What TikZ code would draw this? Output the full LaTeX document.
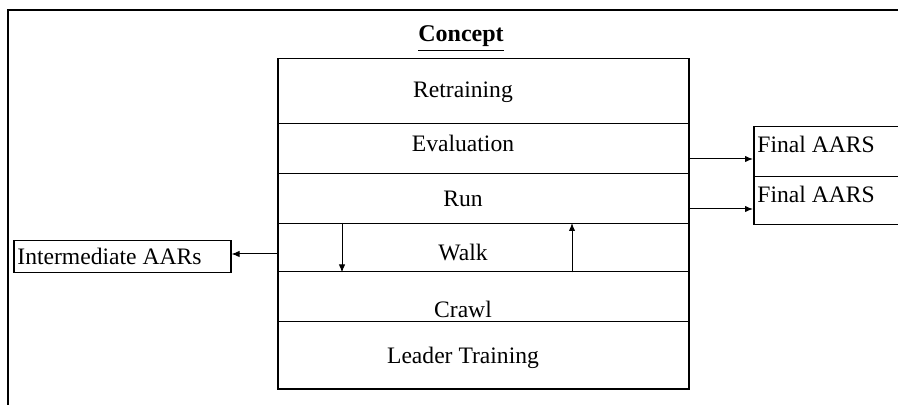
\documentclass[tikz,border=0pt]{standalone}
\usepackage{fontspec}
\setmainfont{Liberation Serif}
\usetikzlibrary{arrows.meta,calc}
\begin{document}
\begin{tikzpicture}[x=0.5pt,y=-0.5pt,
  every node/.style={font=\fontsize{11.8}{14}\selectfont},
  rowbox/.style={draw,line width=0.75pt,anchor=north west,inner sep=0pt,minimum width=205.5pt},
  lbl/.style={anchor=base,inner sep=0pt},
  sidebox/.style={draw,line width=0.75pt,anchor=north west,inner sep=0pt},
  arr/.style={line width=0.5pt,-{Latex[length=4pt,width=3.2pt]}}]
\useasboundingbox (0,0) rectangle (898,405);
\clip (0,0) rectangle (898,405);
\fill[white] (0,0) rectangle (898,405);
% outer frame
\coordinate (fbl) at (8,410);
\coordinate (ftl) at (8,10);
\coordinate (ftr) at (905,10);
\draw[line width=1pt] (fbl) -- (ftl) -- (ftr);
% title
\node[lbl,font=\fontsize{12}{14}\selectfont\bfseries] (title) at (461,42) {\underline{Concept}};
% rows
\node[rowbox,minimum height=32.5pt] (rRet) at (277,58) {};
\node[rowbox,minimum height=25pt] (rEva) at (277,123) {};
\node[rowbox,minimum height=25pt] (rRun) at (277,173) {};
\node[rowbox,minimum height=24pt] (rWal) at (277,223) {};
\node[rowbox,minimum height=25pt] (rCra) at (277,271) {};
\node[rowbox,minimum height=33.5pt] (rLea) at (277,321) {};
% row labels
\node[lbl] (tRet) at (463,98) {Retraining};
\node[lbl] (tEva) at (463,152) {Evaluation};
\node[lbl] (tRun) at (463,207) {Run};
\node[lbl] (tWal) at (463,261) {Walk};
\node[lbl] (tCra) at (463,317) {Crawl};
\node[lbl] (tLea) at (463,364) {Leader Training};
% walk arrows
\coordinate (dTop) at (342,223);
\coordinate (uTop) at (572,223);
\draw[arr] (dTop) -- (dTop |- rWal.south);
\draw[arr] (uTop |- rWal.south) -- (uTop);
% final AARS boxes
\node[sidebox,minimum width=80pt,minimum height=25pt] (fa1) at (753,126) {};
\node[sidebox,minimum width=80pt,minimum height=24pt] (fa2) at (753,176) {};
\node[lbl,anchor=base west] (tfa1) at (757,153) {Final AARS};
\node[lbl,anchor=base west] (tfa2) at (757,203) {Final AARS};
\coordinate (a1) at (688,159);
\coordinate (a2) at (688,209);
\draw[arr] (a1) -- (a1 -| fa1.west);
\draw[arr] (a2) -- (a2 -| fa2.west);
% intermediate AARs
\node[sidebox,minimum width=108.5pt,minimum height=16pt] (ia) at (13,240) {};
\node[lbl,anchor=base west] (tia) at (17,265) {Intermediate AARs};
\coordinate (a3) at (277,254);
\draw[arr] (a3) -- (a3 -| ia.east);
\end{tikzpicture}
\end{document}
